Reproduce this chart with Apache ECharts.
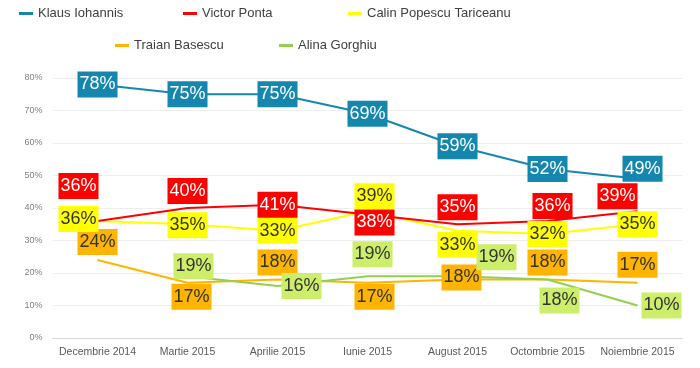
<!DOCTYPE html>
<html>
<head>
<meta charset="utf-8">
<script src="https://cdn.jsdelivr.net/npm/echarts@6/dist/echarts.min.js"></script>
<style>html,body{margin:0;padding:0;background:#fff}#c{width:700px;height:368px}</style>
</head>
<body>
<div id="c"></div>
<script>
var categories = ['Decembrie 2014','Martie 2015','Aprilie 2015','Iunie 2015','August 2015','Octombrie 2015','Noiembrie 2015'];
var iohannis  = [78, 75, 75, 69, 59, 52, 49];
var ponta     = [36, 40, 41, 38, 35, 36, 39];
var tariceanu = [36, 35, 33, 39, 33, 32, 35];
var basescu   = [24, 17, 18, 17, 18, 18, 17];
var gorghiu   = [null, 19, 16, 19, 19, 18, 10];
var yTicks = [0, 10, 20, 30, 40, 50, 60, 70, 80];

// label offsets (pixels, relative to each point) - styling only
var offIohannis  = [[0,0],[0,0],[0,0],[0,0],[0,0],[0,0],[5,-10]];
var offPonta     = [[-19,-35],[0,-17],[0,0],[7,8],[0,-17],[5,-15],[-20,-15]];
var offTariceanu = [[-19,-2],[0,1],[0,0],[7,-15],[0,14],[0,0],[0,0]];
var offBasescu   = [[0,-18],[4,14],[0,-17],[7,14],[4,-2],[0,-17],[0,-18]];
var offGorghiu   = [[0,0],[6,-10],[24,0],[5,-22],[39,-19],[12,21],[24,0]];

var LF = 'Liberation Sans, sans-serif';

function mk(name, vals, offs, lineColor, boxColor, txtColor) {
  return {
    name: name, type: 'line', data: vals.map(function(v, i){
      return {value: v, label: {offset: offs[i]}};
    }),
    symbol: 'circle', symbolSize: 0.01, showSymbol: true,
    lineStyle: {color: lineColor, width: 2},
    itemStyle: {color: lineColor},
    connectNulls: false,
    label: {
      show: true, position: 'inside',
      formatter: function(p){ return p.value == null ? '' : p.value + '%'; },
      backgroundColor: boxColor, color: txtColor,
      fontFamily: LF, fontSize: 18, lineHeight: 22, padding: [2, 2, 2, 2]
    },
    emphasis: {disabled: true}
  };
}

function lg(name, left, top, color) {
  return {
    data: [{name: name, icon: 'rect', itemStyle: {color: color}}],
    left: left, top: top, padding: 0, itemWidth: 14, itemHeight: 3,
    textStyle: {fontFamily: LF, fontSize: 13, color: '#404040'},
    selectedMode: false
  };
}

var chart = echarts.init(document.getElementById('c'));
chart.setOption({
  animation: false,
  legend: [
    lg('Klaus Iohannis', 19, 7, '#1587ae'),
    lg('Victor Ponta', 183, 7, '#ff0000'),
    lg('Calin Popescu Tariceanu', 348, 7, '#ffff00'),
    lg('Traian Basescu', 115, 39, '#ffb400'),
    lg('Alina Gorghiu', 279, 39, '#92d050')
  ],
  grid: {left: 52.5, right: 17.5, top: 78, bottom: 30},
  xAxis: {
    type: 'category', data: categories, boundaryGap: true,
    axisLine: {lineStyle: {color: '#d9d9d9'}}, axisTick: {show: false},
    axisLabel: {fontFamily: 'Liberation Sans, sans-serif', fontSize: 10.5, color: '#595959', margin: 9, interval: 0}
  },
  yAxis: {
    type: 'value', min: yTicks[0], max: yTicks[yTicks.length-1], interval: 10,
    axisLine: {show: false}, axisTick: {show: false},
    splitLine: {lineStyle: {color: '#eeeeee'}},
    axisLabel: {fontFamily: 'Liberation Sans, sans-serif', fontSize: 9, color: '#808080', margin: 10, formatter: '{value}%'}
  },
  series: [
    mk('Klaus Iohannis', iohannis, offIohannis, '#1587ae', '#1587ae', '#ffffff'),
    mk('Traian Basescu', basescu, offBasescu, '#ffb400', '#ffb400', '#333333'),
    mk('Alina Gorghiu', gorghiu, offGorghiu, '#92d050', '#cdee6a', '#333333'),
    mk('Calin Popescu Tariceanu', tariceanu, offTariceanu, '#ffff00', '#ffff00', '#333333'),
    mk('Victor Ponta', ponta, offPonta, '#ff0000', '#ff0000', '#ffffff')
  ]
});
</script>
</body>
</html>
